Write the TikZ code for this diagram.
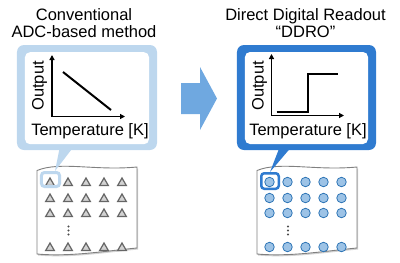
\documentclass[tikz,border=0pt]{standalone}
\usepackage{fontspec}
\setmainfont{Liberation Sans}
\usetikzlibrary{arrows.meta,positioning,shapes.geometric}
\definecolor{paleblue}{RGB}{189,215,238}
\definecolor{deepblue}{RGB}{47,123,208}
\definecolor{midblue}{RGB}{111,168,224}
\definecolor{dotblue}{RGB}{157,195,230}
\definecolor{dotline}{RGB}{46,117,182}
\tikzset{
  title/.style={font=\fontsize{16.5bp}{17.5bp}\selectfont, align=center, inner sep=0pt},
  axlabel/.style={font=\fontsize{16.5bp}{17.5bp}\selectfont, inner sep=0pt},
  panel/.style={rounded corners=7bp, minimum width=140bp, minimum height=105bp, inner sep=0pt},
  face/.style={fill=white, rounded corners=5bp, minimum width=124bp, minimum height=92bp, inner sep=0pt},
  marker/.style={rounded corners=3bp, inner sep=0pt},
  axis/.style={{Triangle[length=5bp,width=5bp]}-{Triangle[length=5bp,width=5bp]}, line width=1.4bp},
  curve/.style={line width=2bp},
  sensortri/.style={regular polygon, regular polygon sides=3, draw=gray!80!black, fill=gray!35, line width=1.2bp, minimum size=10bp, inner sep=0pt},
  sensordot/.style={circle, draw=dotline, fill=dotblue, line width=0.8bp, minimum size=9.5bp, inner sep=0pt},
  gapdot/.style={circle, fill=gray!60!black, minimum size=2.3bp, inner sep=0pt}
}

\begin{document}
\begin{tikzpicture}[x=1bp,y=-1bp]
\useasboundingbox (0,0) rectangle (400,263);

% headings
\node[title] (headL) at (84,23.3) {Conventional\\ADC-based method};
\node[title] (headR) at (305.5,23.3) {Direct Digital Readout\\“DDRO”};

% big arrow
\fill[midblue] (181,83) -- (200,83) -- (200,67) -- (217,98.5) -- (200,130) -- (200,114) -- (181,114) -- cycle;

% callout boxes
\node[panel, fill=paleblue] (boxL) at (87,97.5) {};
\node[face] (faceL) at (87,98.2) {};
\node[panel, fill=deepblue, minimum width=139bp] (boxR) at (306.5,97.5) {};
\node[face, minimum width=123bp] (faceR) at (306.5,98) {};

% left plot
\coordinate (oL) at (52,116.5);
\coordinate (yL) at (52,55);
\coordinate (xL) at (125,116.5);
\draw[axis] (yL) -- (oL) -- (xL);
\draw[curve] (63,72) -- (111,110);
\node[axlabel, anchor=base] (tempL) at (90,135) {Temperature [K]};
\node[axlabel, rotate=90, anchor=base] (outL) at (43.5,86) {Output};

% right plot
\coordinate (oR) at (271.5,115.5);
\coordinate (yR) at (271.5,54);
\coordinate (xR) at (344,115.5);
\draw[axis] (yR) -- (oR) -- (xR);
\draw[curve] (276.5,111.5) -- (307.5,111.5) -- (307.5,74) -- (337.5,74);
\node[axlabel, anchor=base] (tempR) at (308,135) {Temperature [K]};
\node[axlabel, rotate=90, anchor=base] (outR) at (263.5,86) {Output};

% chip sheets
\foreach \sx in {0,220} {
  \fill[gray!35, shift={(\sx+1.2,1.5)}] (37,170.5) .. controls (60,161) and (95,171) .. (137,167) -- (137,248) .. controls (105,251) and (70,257) .. (37,254) -- cycle;
  \draw[gray, fill=white, line width=0.9bp, shift={(\sx,0)}] (37,170.5) .. controls (60,161) and (95,171) .. (137,167) -- (137,248) .. controls (105,251) and (70,257) .. (37,254) -- cycle;
}

% sensor arrays
\foreach \col [count=\i] in {50,68,86,104,122}
  \foreach \row [count=\j] in {182,198,213,247} {
    \node[sensortri] (tri-\i-\j) at (\col,\row+1) {};
    \node[sensordot] (dot-\i-\j) at (\col+219.5,\row) {};
  }
\foreach \dy [count=\k] in {226.5,230.5,234.5} {
  \node[gapdot] (gapL-\k) at (68.5,\dy) {};
  \node[gapdot] (gapR-\k) at (288,\dy) {};
}

% highlighted sensors and callout tails
\node[marker, draw=paleblue, line width=3bp, minimum width=18bp, minimum height=14bp] (markL) at (50.5,179.5) {};
\node[marker, draw=deepblue, line width=2.5bp, minimum width=17.5bp, minimum height=15.5bp] (markR) at (270,181) {};
\fill[paleblue] ([xshift=-27bp,yshift=4bp]boxL.south) -- ([xshift=-13bp,yshift=4bp]boxL.south) -- ([xshift=4.5bp]markL.north) -- cycle;
\fill[deepblue] ([xshift=-26.5bp,yshift=4bp]boxR.south) -- ([xshift=-14.5bp,yshift=4bp]boxR.south) -- (markR.north) -- cycle;
\end{tikzpicture}
\end{document}
